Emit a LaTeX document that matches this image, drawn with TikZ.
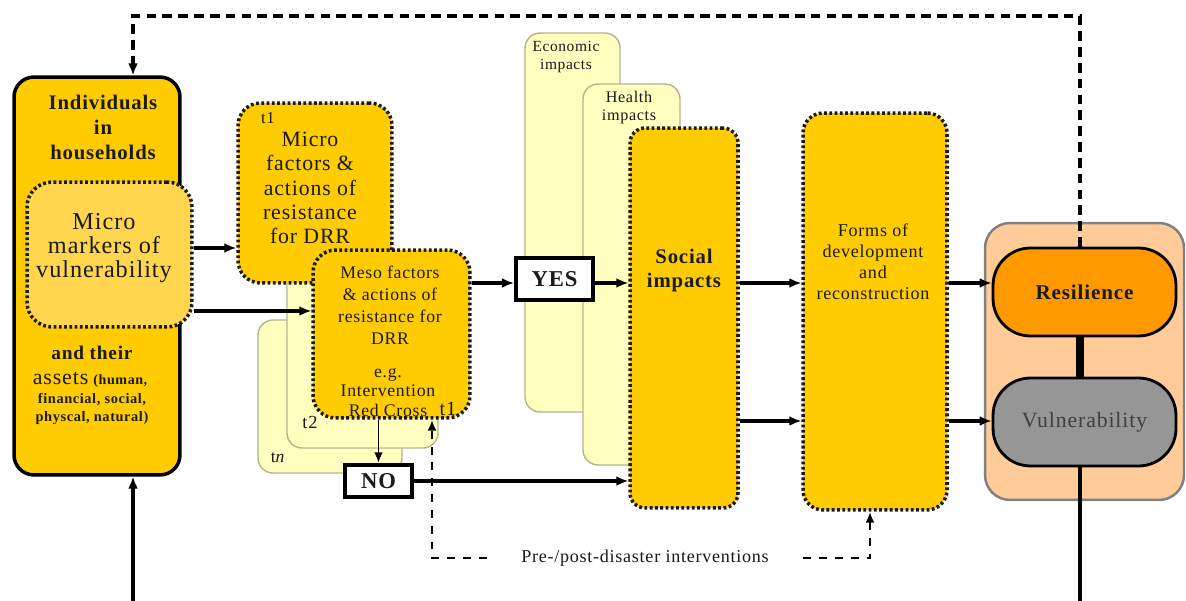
\documentclass[tikz,border=0pt]{standalone}
\usepackage{fontspec}
\setmainfont{Liberation Serif}[LetterSpace=4]
\usetikzlibrary{arrows.meta}

\definecolor{gold}{HTML}{FFCC00}
\definecolor{paleGold}{HTML}{FFD64D}
\definecolor{cream}{HTML}{FFFFC0}
\definecolor{creamEdge}{HTML}{B4B48C}
\definecolor{peach}{HTML}{FFCC99}
\definecolor{amber}{HTML}{FF9900}
\definecolor{midGray}{HTML}{969696}
\definecolor{ink}{HTML}{1A1A1A}

\newcommand\fsz[2]{\fontsize{#1}{#2}\selectfont}

\begin{document}
\begin{tikzpicture}[x=0.02cm, y=-0.02cm,
  solidbox/.style={draw=black, line width=2pt, fill=gold, rounded corners=0.4cm, inner sep=0pt},
  dotbox/.style={draw=ink, line width=2pt, dash pattern=on 1.6pt off 1.4pt, fill=gold, inner sep=0pt},
  markbox/.style={dotbox, fill=paleGold, rounded corners=0.5cm},
  backbox/.style={draw=creamEdge, line width=0.8pt, fill=cream, rounded corners=0.3cm, inner sep=0pt},
  groupbox/.style={draw=gray, line width=1.4pt, fill=peach, rounded corners=0.5cm, inner sep=0pt},
  pill/.style={draw=black, line width=1.6pt, rounded corners=0.75cm, inner sep=0pt,
    minimum width=3.66cm, minimum height=1.76cm},
  flag/.style={draw=black, line width=2.3pt, fill=white, inner sep=0pt, text=ink,
    font=\bfseries\fsz{12.9}{14}},
  lbl/.style={inner sep=0pt, text=ink, align=center},
  arr/.style={line width=2pt, -{Latex[length=2.4mm,width=2mm]}},
  thinarr/.style={line width=1pt, -{Latex[length=2.1mm,width=1.7mm]}},
  loopdash/.style={line width=2.2pt, dash pattern=on 5.5pt off 3.5pt},
  predash/.style={line width=1.5pt, dash pattern=on 4.5pt off 4.5pt}]

\useasboundingbox (0,0) rectangle (1186,601);

% households column
\node[solidbox, minimum width=3.32cm, minimum height=7.96cm] (indiv) at (97,276) {};
\node[markbox, minimum width=3.3cm, minimum height=2.9cm] (markers) at (109.5,254.5) {};

% impact layers behind the social impacts column
\node[backbox, minimum width=1.9cm, minimum height=7.58cm] (econ) at (572.5,222.5) {};
\node[backbox, minimum width=1.94cm, minimum height=7.62cm] (health) at (631.5,274.5) {};

% later time steps behind the factor boxes
\node[backbox, minimum width=2.88cm, minimum height=3.06cm] (tnbox) at (330,396.5) {};
\node[backbox, minimum width=3.02cm, minimum height=3.72cm] (ttwo) at (362.5,355) {};

% factor boxes
\node[dotbox, rounded corners=0.45cm, minimum width=3.08cm, minimum height=3.6cm] (microf) at (315,193) {};
\node[dotbox, rounded corners=0.45cm, minimum width=3.14cm, minimum height=3.36cm] (meso) at (391.5,334) {};

% impacts and reconstruction
\node[dotbox, rounded corners=0.3cm, minimum width=2.16cm, minimum height=7.6cm] (social) at (684,318) {};
\node[dotbox, rounded corners=0.4cm, minimum width=2.88cm, minimum height=7.94cm] (forms) at (875,311.5) {};

% outcome group
\node[groupbox, minimum width=3.98cm, minimum height=5.54cm] (group) at (1084.5,361.5) {};
\node[pill, fill=amber, text=ink, font=\bfseries\fsz{12}{14}] (resil) at (1084.5,292) {Resilience};
\node[pill, fill=midGray, text=black!75, font=\fsz{12.4}{14}] (vuln) at (1084.5,422) {Vulnerability};

% decision boxes
\node[flag, minimum width=1.54cm, minimum height=0.84cm] (yes) at (554.5,279) {YES};
\node[flag, minimum width=1.34cm, minimum height=0.64cm] (no) at (378.5,481) {NO};

% texts
\node[lbl, font=\bfseries\fsz{11.8}{14.2}] (indivT) at (103,127) {Individuals\\in\\households};
\node[lbl, font=\fsz{13.8}{13.7}] (markersT) at (104,248) {Micro\\markers of\\vulnerability};
\node[lbl, font=\bfseries\fsz{11}{12}] (theirT) at (92,353) {and their};
\node[lbl] (assetsT) at (90,380) {{\fsz{12.5}{14}assets} {\bfseries\fsz{8}{9}(human,}};
\node[lbl, font=\bfseries\fsz{8.2}{10}] (finT) at (92,400) {financial, social,};
\node[lbl, font=\bfseries\fsz{8.2}{10}] (physT) at (92,418) {physcal, natural)};

\node[lbl, font=\fsz{9.5}{11}] (tA) at (268,118) {t1};
\node[lbl, font=\fsz{12.4}{13.9}] (microfT) at (310,188) {Micro\\factors \&\\actions of\\resistance\\for DRR};

\node[lbl, font=\fsz{10.1}{12.5}] (mesoT) at (390,305) {Meso factors\\\& actions of\\resistance for\\DRR};
\node[lbl, font=\fsz{10.1}{11.1}] (mesoEg) at (388,392.5) {e.g.\\Intervention\\Red Cross};
\node[lbl, font=\fsz{11.5}{13}] (tB) at (448,409) {t1};
\node[lbl, font=\fsz{10.5}{12}] (tC) at (310,422) {t2};
\node[lbl, font=\fsz{10}{12}] (tD) at (278,458) {t\textit{n}};

\node[lbl, font=\fsz{8.8}{10.2}] (econT) at (566,57) {Economic\\impacts};
\node[lbl, font=\fsz{9.2}{10.3}] (healthT) at (629,108) {Health\\impacts};
\node[lbl, font=\bfseries\fsz{11.8}{14.2}] (socialT) at (684,270.5) {Social\\impacts};
\node[lbl, font=\fsz{10.3}{11.9}] (formsT) at (873,261.5) {Forms of\\development\\and\\reconstruction};

\node[lbl, fill=white, minimum width=6.32cm, minimum height=0.5cm, font=\fsz{10.3}{12}] (preT) at (645,558) {Pre-/post-disaster interventions};

% helper coordinates for rows and free ends
\coordinate (loopR) at (1080,16);
\coordinate (loopL) at (133,16);
\coordinate (inB) at (133,601);
\coordinate (outB) at (1080,601);
\coordinate (rowA) at (0,283);
\coordinate (rowB) at (0,421);
\coordinate (rowM1) at (0,248);
\coordinate (rowM2) at (0,311);
\coordinate (pdL) at (432,558);
\coordinate (pdR) at (870,558);

% connectors
\draw[arr] (markers.east |- rowM1) -- (microf.west |- rowM1);
\draw[arr] (markers.east |- rowM2) -- (meso.west |- rowM2);
\draw[arr] (meso.east |- rowA) -- (yes.west |- rowA);
\draw[arr] (yes.east |- rowA) -- (social.west |- rowA);
\draw[thinarr] (meso.south -| no.north) -- (no.north);
\draw[arr] (no.east) -- (social.west |- no.east);
\draw[arr] (social.east |- rowA) -- (forms.west |- rowA);
\draw[arr] (social.east |- rowB) -- (forms.west |- rowB);
\draw[arr] (forms.east |- rowA) -- (resil.west |- rowA);
\draw[arr] (forms.east |- rowB) -- (vuln.west |- rowB);

\draw[line width=5pt] (resil.south -| outB) -- (vuln.north -| outB);
\draw[line width=2pt] (vuln.south -| outB) -- (outB);
\draw[arr] (inB) -- (indiv.south -| inB);

\draw[loopdash, -{Latex[length=2.4mm,width=2mm]}]
  (resil.north -| loopR) -- (loopR) -- (loopL) -- (indiv.north -| loopL);
\draw[predash, -{Latex[length=2.2mm,width=1.8mm]}] (preT.west) -- (pdL) -- (meso.south -| pdL);
\draw[predash, -{Latex[length=2.2mm,width=1.8mm]}] (preT.east) -- (pdR) -- (forms.south -| pdR);

\end{tikzpicture}
\end{document}
